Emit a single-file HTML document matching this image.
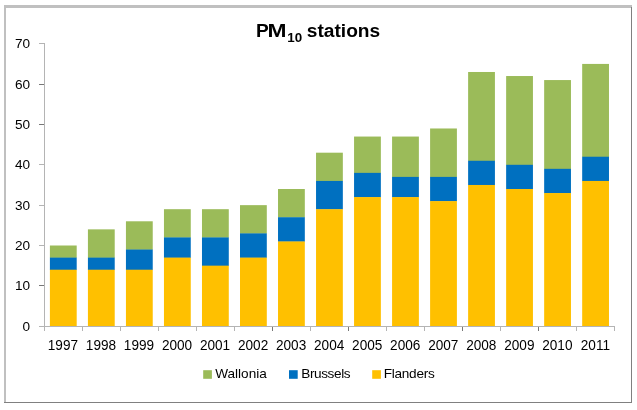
<!DOCTYPE html>
<html><head><meta charset="utf-8"><title>PM10 stations</title>
<style>
html,body{margin:0;padding:0;background:#fff;}
body{width:637px;height:410px;overflow:hidden;}
svg{display:block;font-family:"Liberation Sans",sans-serif;}
.ax{font-size:13.6px;fill:#000;}
</style></head><body>
<svg width="637" height="410" viewBox="0 0 637 410">
<rect x="0" y="0" width="637" height="410" fill="#fff"/>
<rect x="4" y="5" width="628" height="3" fill="#c0c0c0"/>
<rect x="4" y="5" width="2" height="398" fill="#c0c0c0"/>
<rect x="631" y="7" width="1" height="396" fill="#808080"/>
<rect x="4" y="402" width="628" height="1" fill="#808080"/>
<rect x="49.90" y="245.50" width="26.80" height="12.41" fill="#9bbb59"/>
<rect x="49.90" y="257.61" width="26.80" height="12.40" fill="#0070c0"/>
<rect x="49.90" y="269.71" width="26.80" height="56.49" fill="#ffc000"/>
<rect x="87.92" y="229.36" width="26.80" height="28.55" fill="#9bbb59"/>
<rect x="87.92" y="257.61" width="26.80" height="12.40" fill="#0070c0"/>
<rect x="87.92" y="269.71" width="26.80" height="56.49" fill="#ffc000"/>
<rect x="125.94" y="221.29" width="26.80" height="28.54" fill="#9bbb59"/>
<rect x="125.94" y="249.53" width="26.80" height="20.48" fill="#0070c0"/>
<rect x="125.94" y="269.71" width="26.80" height="56.49" fill="#ffc000"/>
<rect x="163.96" y="209.19" width="26.80" height="28.54" fill="#9bbb59"/>
<rect x="163.96" y="237.43" width="26.80" height="20.48" fill="#0070c0"/>
<rect x="163.96" y="257.61" width="26.80" height="68.59" fill="#ffc000"/>
<rect x="201.98" y="209.19" width="26.80" height="28.54" fill="#9bbb59"/>
<rect x="201.98" y="237.43" width="26.80" height="28.54" fill="#0070c0"/>
<rect x="201.98" y="265.67" width="26.80" height="60.53" fill="#ffc000"/>
<rect x="240.00" y="205.15" width="26.80" height="28.55" fill="#9bbb59"/>
<rect x="240.00" y="233.39" width="26.80" height="24.51" fill="#0070c0"/>
<rect x="240.00" y="257.61" width="26.80" height="68.59" fill="#ffc000"/>
<rect x="278.02" y="189.01" width="26.80" height="28.55" fill="#9bbb59"/>
<rect x="278.02" y="217.25" width="26.80" height="24.51" fill="#0070c0"/>
<rect x="278.02" y="241.46" width="26.80" height="84.74" fill="#ffc000"/>
<rect x="316.04" y="152.69" width="26.80" height="28.55" fill="#9bbb59"/>
<rect x="316.04" y="180.94" width="26.80" height="28.55" fill="#0070c0"/>
<rect x="316.04" y="209.19" width="26.80" height="117.01" fill="#ffc000"/>
<rect x="354.06" y="136.55" width="26.80" height="36.61" fill="#9bbb59"/>
<rect x="354.06" y="172.87" width="26.80" height="24.51" fill="#0070c0"/>
<rect x="354.06" y="197.08" width="26.80" height="129.12" fill="#ffc000"/>
<rect x="392.08" y="136.55" width="26.80" height="40.65" fill="#9bbb59"/>
<rect x="392.08" y="176.90" width="26.80" height="20.48" fill="#0070c0"/>
<rect x="392.08" y="197.08" width="26.80" height="129.12" fill="#ffc000"/>
<rect x="430.10" y="128.48" width="26.80" height="48.72" fill="#9bbb59"/>
<rect x="430.10" y="176.90" width="26.80" height="24.51" fill="#0070c0"/>
<rect x="430.10" y="201.11" width="26.80" height="125.09" fill="#ffc000"/>
<rect x="468.12" y="71.99" width="26.80" height="89.07" fill="#9bbb59"/>
<rect x="468.12" y="160.76" width="26.80" height="24.51" fill="#0070c0"/>
<rect x="468.12" y="184.97" width="26.80" height="141.22" fill="#ffc000"/>
<rect x="506.14" y="76.03" width="26.80" height="89.07" fill="#9bbb59"/>
<rect x="506.14" y="164.80" width="26.80" height="24.51" fill="#0070c0"/>
<rect x="506.14" y="189.01" width="26.80" height="137.19" fill="#ffc000"/>
<rect x="544.16" y="80.06" width="26.80" height="89.07" fill="#9bbb59"/>
<rect x="544.16" y="168.83" width="26.80" height="24.51" fill="#0070c0"/>
<rect x="544.16" y="193.04" width="26.80" height="133.16" fill="#ffc000"/>
<rect x="582.18" y="63.92" width="26.80" height="93.11" fill="#9bbb59"/>
<rect x="582.18" y="156.73" width="26.80" height="24.51" fill="#0070c0"/>
<rect x="582.18" y="180.94" width="26.80" height="145.26" fill="#ffc000"/>
<g stroke="#b4b4b4" stroke-width="1" fill="none">
<line x1="44.50" y1="43.00" x2="44.50" y2="331.00"/>
<line x1="39.00" y1="326.50" x2="615.00" y2="326.50"/>
<line x1="39.00" y1="285.50" x2="44.00" y2="285.50" stroke="#777"/>
<line x1="39.00" y1="245.50" x2="44.00" y2="245.50"/>
<line x1="39.00" y1="205.50" x2="44.00" y2="205.50"/>
<line x1="39.00" y1="164.50" x2="44.00" y2="164.50"/>
<line x1="39.00" y1="124.50" x2="44.00" y2="124.50" stroke="#777"/>
<line x1="39.00" y1="84.50" x2="44.00" y2="84.50" stroke="#777"/>
<line x1="39.00" y1="43.50" x2="44.00" y2="43.50"/>
<line x1="82.50" y1="327.00" x2="82.50" y2="331.00"/>
<line x1="120.50" y1="327.00" x2="120.50" y2="331.00"/>
<line x1="158.50" y1="327.00" x2="158.50" y2="331.00"/>
<line x1="196.50" y1="327.00" x2="196.50" y2="331.00"/>
<line x1="234.50" y1="327.00" x2="234.50" y2="331.00"/>
<line x1="272.50" y1="327.00" x2="272.50" y2="331.00" stroke="#777"/>
<line x1="310.50" y1="327.00" x2="310.50" y2="331.00"/>
<line x1="348.50" y1="327.00" x2="348.50" y2="331.00" stroke="#777"/>
<line x1="386.50" y1="327.00" x2="386.50" y2="331.00"/>
<line x1="424.50" y1="327.00" x2="424.50" y2="331.00"/>
<line x1="462.50" y1="327.00" x2="462.50" y2="331.00" stroke="#777"/>
<line x1="500.50" y1="327.00" x2="500.50" y2="331.00"/>
<line x1="538.50" y1="327.00" x2="538.50" y2="331.00" stroke="#777"/>
<line x1="576.50" y1="327.00" x2="576.50" y2="331.00"/>
<line x1="614.50" y1="327.00" x2="614.50" y2="331.00"/>
</g>
<text class="ax" transform="translate(30.0,331.30)" text-anchor="end">0</text>
<text class="ax" transform="translate(30.0,290.30)" text-anchor="end">10</text>
<text class="ax" transform="translate(30.0,250.30)" text-anchor="end">20</text>
<text class="ax" transform="translate(30.0,210.30)" text-anchor="end">30</text>
<text class="ax" transform="translate(30.0,169.30)" text-anchor="end">40</text>
<text class="ax" transform="translate(30.0,129.30)" text-anchor="end">50</text>
<text class="ax" transform="translate(30.0,89.30)" text-anchor="end">60</text>
<text class="ax" transform="translate(30.0,48.30)" text-anchor="end">70</text>
<text class="ax" transform="translate(62.90,349.6) scale(1,1.06)" text-anchor="middle">1997</text>
<text class="ax" transform="translate(100.94,349.6) scale(1,1.06)" text-anchor="middle">1998</text>
<text class="ax" transform="translate(138.97,349.6) scale(1,1.06)" text-anchor="middle">1999</text>
<text class="ax" transform="translate(177.01,349.6) scale(1,1.06)" text-anchor="middle">2000</text>
<text class="ax" transform="translate(215.04,349.6) scale(1,1.06)" text-anchor="middle">2001</text>
<text class="ax" transform="translate(253.08,349.6) scale(1,1.06)" text-anchor="middle">2002</text>
<text class="ax" transform="translate(291.12,349.6) scale(1,1.06)" text-anchor="middle">2003</text>
<text class="ax" transform="translate(329.15,349.6) scale(1,1.06)" text-anchor="middle">2004</text>
<text class="ax" transform="translate(367.19,349.6) scale(1,1.06)" text-anchor="middle">2005</text>
<text class="ax" transform="translate(405.22,349.6) scale(1,1.06)" text-anchor="middle">2006</text>
<text class="ax" transform="translate(443.26,349.6) scale(1,1.06)" text-anchor="middle">2007</text>
<text class="ax" transform="translate(481.30,349.6) scale(1,1.06)" text-anchor="middle">2008</text>
<text class="ax" transform="translate(519.33,349.6) scale(1,1.06)" text-anchor="middle">2009</text>
<text class="ax" transform="translate(557.37,349.6) scale(1,1.06)" text-anchor="middle">2010</text>
<text class="ax" transform="translate(595.40,349.6) scale(1,1.06)" text-anchor="middle">2011</text>
<text y="37.4" font-size="19.1px" font-weight="bold" fill="#000"><tspan x="256">P</tspan><tspan x="267.6" textLength="19" lengthAdjust="spacingAndGlyphs">M</tspan><tspan x="287.2" y="42.1" font-size="13.4px">10</tspan><tspan x="301.5" y="37.4"> </tspan><tspan x="306.8" y="37.4" textLength="73.4" lengthAdjust="spacingAndGlyphs">stations</tspan></text>
<rect x="203.2" y="370.2" width="8.7" height="8.6" fill="#9bbb59"/>
<text class="ax" x="215.2" y="378.3">Wallonia</text>
<rect x="289.0" y="370.2" width="8.7" height="8.6" fill="#0070c0"/>
<text class="ax" x="301.2" y="378.3" textLength="49.4" lengthAdjust="spacing">Brussels</text>
<rect x="372.2" y="370.2" width="8.7" height="8.6" fill="#ffc000"/>
<text class="ax" x="383.8" y="378.3" textLength="50.9" lengthAdjust="spacing">Flanders</text>
</svg>
</body></html>
